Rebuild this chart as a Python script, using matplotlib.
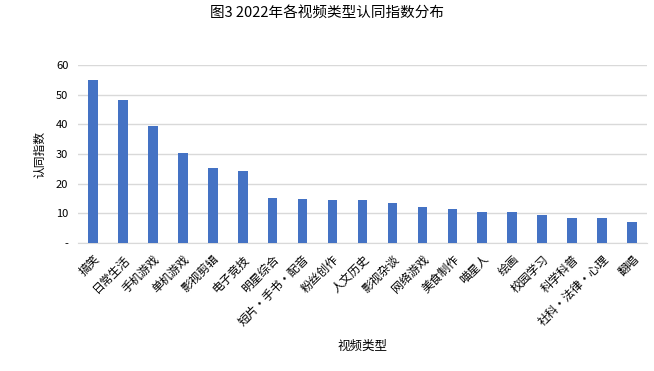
import numpy as np
import matplotlib.pyplot as plt

plt.rcParams['font.family'] = ['Noto Sans CJK SC', 'DejaVu Sans']

categories = ['搞笑', '日常生活', '手机游戏', '单机游戏', '影视剪辑', '电子竞技', '明星综合',
              '短片·手书·配音', '粉丝创作', '人文历史', '影视杂谈', '网络游戏', '美食制作',
              '喵星人', '绘画', '校园学习', '科学科普', '社科·法律·心理', '翻唱']
values = [55.1, 48.3, 39.4, 30.3, 25.3, 24.3, 15.2, 14.8, 14.5, 14.5, 13.5, 12.1, 11.5,
          10.5, 10.5, 9.4, 8.4, 8.4, 7.1]
yticks = [0, 10, 20, 30, 40, 50, 60]
ylabels = ['-', '10', '20', '30', '40', '50', '60']

fig = plt.figure(figsize=(6.54, 3.71), dpi=100)
ax = fig.add_axes([78/654, 1 - 243/371, (647 - 78)/654, (243 - 65)/371])

x = np.arange(len(categories))
ax.bar(x, values, width=0.32, color='#4472C4', zorder=3)

ax.set_xlim(-0.5, len(categories) - 0.5)
ax.set_ylim(0, 60)
ax.set_yticks(yticks)
ax.set_yticklabels(ylabels, fontsize=8)
ax.yaxis.grid(True, color='#D9D9D9', linewidth=1, zorder=0)
ax.set_xticks(x)
ax.set_xticklabels(categories, rotation=45, ha='right', rotation_mode='anchor', fontsize=8.5)
ax.tick_params(axis='both', length=0)
ax.tick_params(axis='y', pad=7)
ax.tick_params(axis='x', pad=7)
for s in ['top', 'right', 'left']:
    ax.spines[s].set_visible(False)
ax.spines['bottom'].set_color('#D9D9D9')

ax.set_ylabel('认同指数', fontsize=8.5)
ax.yaxis.set_label_coords(-0.055, 0.5)
fig.text((78 + 647) / 2 / 654, 1 - 346/371, '视频类型', ha='center', va='center', fontsize=9)
fig.text(0.5, 1 - 13/371, '图3 2022年各视频类型认同指数分布', ha='center', va='center', fontsize=10.5)

fig.savefig('out.png', dpi=100)
